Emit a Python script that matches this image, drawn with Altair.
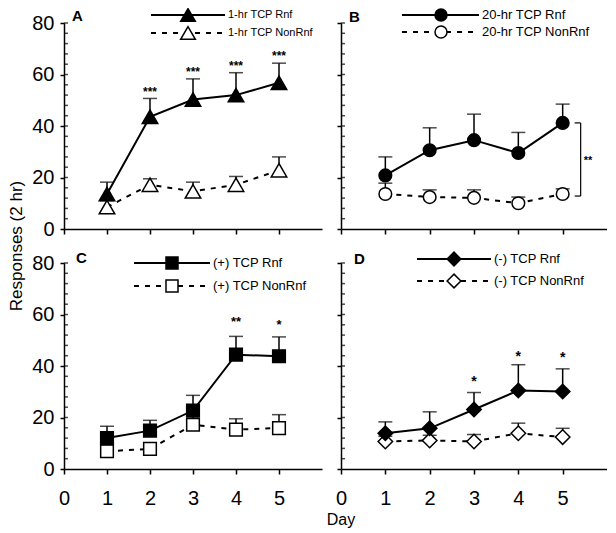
import altair as alt
import pandas as pd

FONT = "Liberation Sans"
BLACK = "#000000"

days = [1, 2, 3, 4, 5]
x_tick_values = [0, 1, 2, 3, 4, 5]
y_tick_values = [0, 20, 40, 60, 80]
y_minor_values = [4, 8, 12, 16, 20, 24, 28, 32, 36, 40, 44, 48, 52, 56, 60, 64, 68, 72, 76, 80]

# Panel A: 1-hr TCP
A_rnf = [13.6, 43.6, 50.3, 52.0, 56.8]
A_rnf_sem = [4.6, 7.1, 8.0, 8.7, 7.6]
A_non = [8.5, 17.2, 14.6, 17.2, 22.8]
A_non_sem = [2.5, 2.3, 3.6, 3.2, 5.2]
A_star_days = [2, 3, 4, 5]
A_star_y = [54.2, 62.0, 64.4, 68.5]
A_star_text = ["***", "***", "***", "***"]

# Panel B: 20-hr TCP
B_rnf = [20.8, 30.6, 34.5, 29.5, 41.2]
B_rnf_sem = [7.2, 8.7, 10.1, 8.0, 7.3]
B_non = [13.6, 12.4, 12.1, 10.0, 13.6]
B_non_sem = [4.2, 2.8, 3.1, 2.4, 2.0]

# Panel C: (+) TCP
C_rnf = [12.0, 14.9, 22.7, 44.4, 43.8]
C_rnf_sem = [4.6, 4.0, 5.9, 7.1, 7.5]
C_non = [6.9, 7.8, 17.2, 15.3, 15.9]
C_non_sem = [2.0, 2.0, 3.0, 4.2, 5.2]
C_star_days = [4, 5]
C_star_y = [58.3, 57.0]
C_star_text = ["**", "*"]

# Panel D: (-) TCP
D_rnf = [13.9, 15.8, 23.1, 30.5, 30.1]
D_rnf_sem = [4.4, 6.4, 6.6, 10.0, 8.8]
D_non = [10.7, 11.1, 10.7, 13.9, 12.4]
D_non_sem = [2.0, 2.0, 2.7, 3.9, 3.4]
D_star_days = [3, 4, 5]
D_star_y = [35.1, 44.6, 44.2]
D_star_text = ["*", "*", "*"]

H = 206


def legend_row(label, x1, x2, xm, y, dashed, shape, size, fill, fs):
    d = pd.DataFrame({"label": [label]})
    base = alt.Chart(d)
    rule_kw = dict(color=BLACK, strokeWidth=2)
    if dashed:
        rule_kw["strokeDash"] = [5, 6]
    line = base.mark_rule(**rule_kw).encode(
        x=alt.value(x1), x2=alt.value(x2), y=alt.value(y))
    pt = base.mark_point(shape=shape, size=size, filled=True, fill=fill,
                         stroke=BLACK, strokeWidth=1.5, opacity=1).encode(
        x=alt.value(xm), y=alt.value(y))
    txt = base.mark_text(align="left", baseline="middle", fontSize=fs,
                         font=FONT, color=BLACK).encode(
        x=alt.value(x2 + 3), y=alt.value(y), text="label:N")
    return [line, pt, txt]


def make_panel(rnf, rnf_sem, non, non_sem, shape, size, width, xlabels, ylabels,
               labels, letter, leg, letter_pos, stars=None, extra=None):
    xs = alt.Scale(domain=[0, 6], nice=False, zero=False)
    ys = alt.Scale(domain=[0, 80], nice=False)
    xax = alt.Axis(values=x_tick_values, labels=xlabels, title=None, tickSize=5,
                   labelPadding=14, labelFlush=False, labelFontSize=20)
    yax = alt.Axis(values=y_tick_values, labels=ylabels, title=None, tickSize=4,
                   labelPadding=6, labelFontSize=20)

    def X(f):
        return alt.X(f, type="quantitative", scale=xs, axis=xax)

    def Y(f):
        return alt.Y(f, type="quantitative", scale=ys, axis=yax)

    layers = []
    tk = pd.DataFrame({"x0": [0] * len(y_minor_values), "v": y_minor_values})
    layers.append(alt.Chart(tk).mark_tick(orient="horizontal", size=4, thickness=1.5,
                                          xOffset=2, color=BLACK).encode(x=X("x0"), y=Y("v")))

    groups = [
        (non, non_sem, True, "white"),
        (rnf, rnf_sem, False, BLACK),
    ]
    line_layers, err_layers, pt_layers = [], [], []
    for vals, sem, dashed, fill in groups:
        df = pd.DataFrame({"day": days, "val": vals, "sem": sem})
        df["upper"] = df["val"] + df["sem"]
        c = alt.Chart(df)
        lkw = dict(color=BLACK, strokeWidth=2)
        if dashed:
            lkw["strokeDash"] = [5, 6]
        line_layers.append(c.mark_line(**lkw).encode(x=X("day"), y=Y("val")))
        err_layers.append(c.mark_rule(color=BLACK, strokeWidth=1.5).encode(
            x=X("day"), y=Y("val"), y2=alt.Y2("upper:Q")))
        err_layers.append(c.mark_tick(orient="horizontal", size=14, thickness=1.5,
                                      color=BLACK).encode(x=X("day"), y=Y("upper")))
        pt_layers.append(c.mark_point(shape=shape, size=size, filled=True, fill=fill,
                                      stroke=BLACK, strokeWidth=1.5, opacity=1).encode(
            x=X("day"), y=Y("val")))
    layers += line_layers + err_layers + pt_layers

    if stars is not None:
        sdays, sy, stext, sfs = stars
        sd = pd.DataFrame({"day": sdays, "sy": sy, "t": stext})
        layers.append(alt.Chart(sd).mark_text(fontSize=sfs, fontWeight="bold", font=FONT,
                                              color=BLACK, baseline="middle", dy=3).encode(
            x=X("day"), y=Y("sy"), text="t:N"))

    (lx1, lx2, lxm, ly1, ly2, lfs) = leg
    layers += legend_row(labels[0], lx1, lx2, lxm, ly1, False, shape, size * 0.9, BLACK, lfs)
    layers += legend_row(labels[1], lx1, lx2, lxm, ly2, True, shape, size * 0.9, "white", lfs)

    ld = pd.DataFrame({"letter": [letter]})
    layers.append(alt.Chart(ld).mark_text(fontSize=15, fontWeight="bold", font=FONT,
                                          color=BLACK, align="left", baseline="middle").encode(
        x=alt.value(letter_pos[0]), y=alt.value(letter_pos[1]), text="letter:N"))

    if extra is not None:
        layers += extra(X, Y)

    return alt.layer(*layers).properties(width=width, height=H)


def bracket_B(X, Y):
    bd = pd.DataFrame({"day": [5], "top": [B_rnf[4]], "bottom": [12.8],
                       "mid": [27.2], "t": ["**"]})
    c = alt.Chart(bd)
    v = c.mark_rule(color=BLACK, strokeWidth=1.2, xOffset=18).encode(
        x=X("day"), y=Y("top"), y2=alt.Y2("bottom:Q"))
    h1 = c.mark_rule(color=BLACK, strokeWidth=1.2, xOffset=12, x2Offset=18).encode(
        x=X("day"), x2=alt.X2("day:Q"), y=Y("top"))
    h2 = c.mark_rule(color=BLACK, strokeWidth=1.2, xOffset=12, x2Offset=18).encode(
        x=X("day"), x2=alt.X2("day:Q"), y=Y("bottom"))
    t = c.mark_text(fontSize=11, fontWeight="bold", font=FONT, color=BLACK,
                    align="left", baseline="middle", xOffset=21, dy=2).encode(
        x=X("day"), y=Y("mid"), text="t:N")
    return [v, h1, h2, t]


def ytitle(X, Y):
    d = pd.DataFrame({"t": ["Responses (2 hr)"]})
    return [alt.Chart(d).mark_text(fontSize=17, font=FONT, color=BLACK, angle=270,
                                   baseline="middle", align="center").encode(
        x=alt.value(-47), y=alt.value(223), text="t:N")]


def xtitle(X, Y):
    d = pd.DataFrame({"t": ["Day"]})
    return [alt.Chart(d).mark_text(fontSize=16, font=FONT, color=BLACK,
                                   baseline="middle", align="center").encode(
        x=alt.value(0), y=alt.value(257), text="t:N")]


WL, WR = 258, 266

pA = make_panel(A_rnf, A_rnf_sem, A_non, A_non_sem, "triangle-up", 240, WL, False, True,
                ["1-hr TCP Rnf", "1-hr TCP NonRnf"], "A",
                (87, 161, 124, -8, 10, 11), (8, -7),
                stars=(A_star_days, A_star_y, A_star_text, 12), extra=ytitle)
pB = make_panel(B_rnf, B_rnf_sem, B_non, B_non_sem, "circle", 160, WR, False, False,
                ["20-hr TCP Rnf", "20-hr TCP NonRnf"], "B",
                (61, 138, 100, -8, 9, 13), (8, -6), extra=bracket_B)
pC = make_panel(C_rnf, C_rnf_sem, C_non, C_non_sem, "square", 160, WL, True, True,
                ["(+) TCP Rnf", "(+) TCP NonRnf"], "C",
                (70, 146, 108, 0, 23, 13), (12, -5),
                stars=(C_star_days, C_star_y, C_star_text, 13))
pD = make_panel(D_rnf, D_rnf_sem, D_non, D_non_sem, "diamond", 210, WR, True, False,
                ["(-) TCP Rnf", "(-) TCP NonRnf"], "D",
                (76, 150, 113, -4, 18, 13), (13, -4),
                stars=(D_star_days, D_star_y, D_star_text, 14), extra=xtitle)

chart = alt.ConcatChart(
    concat=[pA, pB, pC, pD], columns=2,
    spacing={"row": 34, "column": 19}, bounds="flush"
).properties(
    padding={"top": -3, "left": 0, "right": 0, "bottom": 0}, background="white"
).configure_view(stroke=None).configure_axis(
    grid=False, domainColor=BLACK, tickColor=BLACK, labelColor=BLACK,
    labelFont=FONT, labelFontSize=20, domainWidth=1.5, tickWidth=1.5
)

chart.save("out.html", embed_options={"renderer": "svg", "actions": False})
